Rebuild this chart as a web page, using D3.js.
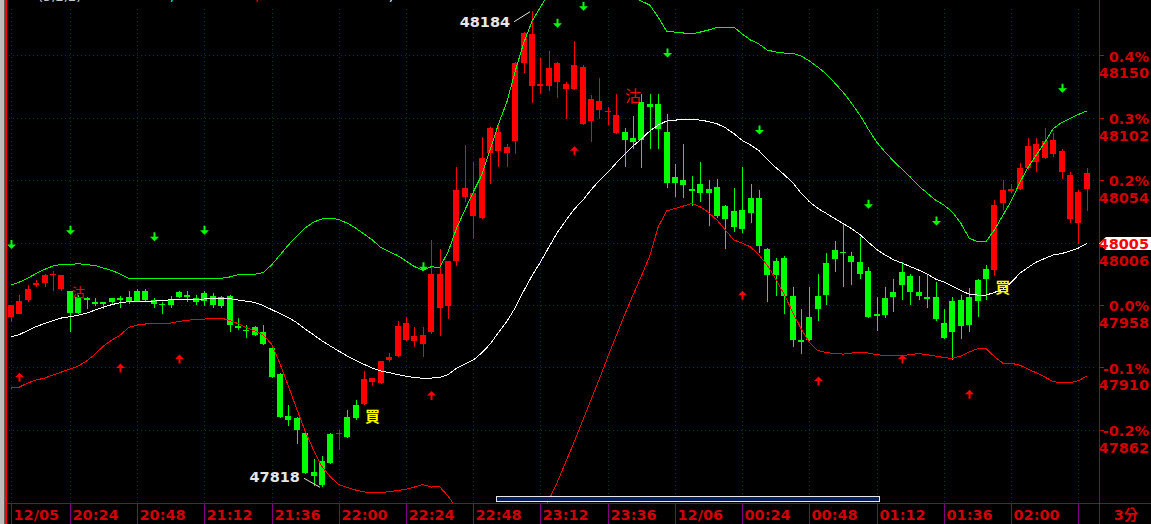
<!DOCTYPE html>
<html><head><meta charset="utf-8">
<script src="https://cdn.jsdelivr.net/npm/d3@7"></script>
<style>
html,body{margin:0;padding:0;background:#000;overflow:hidden;}
svg{display:block;}
</style></head><body>
<svg id="c" width="1151" height="524"></svg>
<script>
// ---------- DATA ----------
// 3-minute bars, 12/05 20:03 -> 12/06 02:27
const times = d3.range(129).map(i => {
  const m = 20 * 60 + 3 + 3 * i;
  return String(Math.floor(m / 60) % 24).padStart(2, "0") + ":" + String(m % 60).padStart(2, "0");
});
const tickTimes  = ["20:03","20:24","20:48","21:12","21:36","22:00","22:24","22:48","23:12","23:36","00:00","00:24","00:48","01:12","01:36","02:00","02:24"];
const tickLabels = ["12/05","20:24","20:48","21:12","21:36","22:00","22:24","22:48","23:12","23:36","12/06","00:24","00:48","01:12","01:36","02:00",""];

const refPrice = 47958;
const pctTicks = [0.4, 0.3, 0.2, 0.1, 0.0, -0.1, -0.2];
const priceLabels = ["48150","48102","48054","48006","47958","47910","47862"];

const open = [47949,47951,47962,47973,47975,47981,47970,47969,47964,47963,
47960,47960,47963,47963,47964,47969,47969,47962,47959,47962,
47968,47966,47963,47967,47965,47964,47965,47942,47939,47941,
47937,47925,47905,47873,47871,47860,47830,47838,47859,47860,
47872,47881,47882,47899,47898,47916,47919,47931,47930,47928,
47937,47956,47957,47992,48041,48026,48025,48075,48076,48075,
48084,48144,48126,48126,48126,48129,48124,48124,48097,48099,
48108,48106,48090,48091,48086,48114,48112,48112,48091,48056,
48054,48047,48051,48047,48049,48034,48030,48031,48040,48040,
48001,47992,47994,47965,47931,47949,47965,47990,48000,47999,
47996,47991,47984,47951,47963,47968,47983,47980,47968,47964,
47964,47944,47961,47962,47964,47977,47986,47985,48036,48046,
48047,48063,48068,48071,48074,48060,48024,48021,48047];
const high = [47958,47966,47973,47977,47982,47984,47981,47969,47966,47964,
47963,47960,47963,47965,47969,47970,47970,47963,47960,47965,
47969,47969,47966,47969,47967,47965,47966,47948,47943,47942,
47943,47926,47906,47881,47872,47861,47840,47842,47860,47862,
47877,47885,47907,47902,47915,47921,47946,47949,47941,47941,
48008,48001,47992,48064,48081,48068,48087,48095,48096,48082,
48145,48168,48184,48148,48153,48145,48129,48161,48142,48119,
48132,48110,48120,48094,48103,48120,48120,48120,48105,48066,
48082,48057,48068,48054,48055,48035,48048,48064,48051,48046,
48002,47994,47996,47972,47955,47972,47982,47998,48007,48020,
47999,48010,47987,47964,47972,47978,47991,47982,47980,47982,
47976,47955,47964,47966,47971,47978,47989,48039,48054,48051,
48067,48086,48086,48094,48090,48078,48060,48046,48063];
const low = [47945,47951,47960,47972,47972,47969,47969,47937,47951,47955,
47957,47955,47958,47956,47959,47960,47961,47956,47951,47956,
47963,47960,47958,47957,47956,47956,47937,47939,47933,47934,
47927,47902,47871,47865,47851,47828,47819,47818,47836,47847,
47856,47870,47881,47896,47897,47914,47918,47930,47926,47918,
47936,47934,47947,47988,48037,48009,48024,48051,48064,48064,
48074,48136,48113,48120,48122,48117,48101,48123,48096,48083,
48101,48096,48089,48064,48078,48063,48078,48078,48048,48041,
48040,48034,48037,48019,48025,48001,48014,48013,48021,47998,
47960,47965,47951,47926,47920,47930,47946,47958,47983,47972,
47973,47978,47948,47938,47948,47953,47962,47958,47962,47956,
47946,47932,47916,47932,47937,47949,47962,47980,48031,48044,
48046,48062,48060,48070,48072,48055,48021,48005,48030];
const close = [47958,47961,47970,47975,47981,47982,47981,47952,47952,47962,
47959,47959,47960,47962,47960,47961,47962,47959,47958,47958,
47964,47964,47960,47961,47958,47957,47943,47940,47938,47935,
47928,47903,47872,47870,47862,47829,47827,47820,47837,47860,
47857,47871,47901,47902,47915,47918,47942,47944,47934,47935,
47982,47982,47992,48046,48048,48044,48071,48094,48091,48079,
48144,48167,48166,48128,48140,48144,48128,48142,48141,48116,
48115,48107,48104,48085,48083,48085,48110,48093,48052,48052,
48050,48046,48044,48044,48026,48024,48018,48016,48029,48003,
47981,47981,47965,47931,47930,47931,47955,47966,47993,47998,
47991,47982,47949,47950,47950,47964,47973,47968,47965,47963,
47947,47933,47937,47942,47943,47961,47978,48035,48046,48047,
48063,48080,48082,48084,48085,48076,48058,48045,48059];

// Bollinger bands
const bandMid = [47933.6,47935.3,47938.4,47941.4,47943.8,47945.9,47948.0,47949.0,47950.1,47951.8,
47954.1,47956.4,47958.3,47959.8,47960.5,47961.0,47961.0,47961.0,47961.4,47962.0,
47962.3,47962.6,47962.6,47962.6,47963.0,47963.1,47963.0,47961.8,47960.9,47960.0,
47957.6,47954.5,47951.4,47948.4,47944.5,47939.5,47935.1,47930.5,47926.5,47922.6,
47918.9,47915.4,47912.4,47909.6,47907.3,47906.1,47904.6,47903.3,47902.3,47901.7,
47901.9,47902.4,47904.6,47909.3,47912.5,47915.7,47921.1,47928.0,47936.8,47945.3,
47956.0,47968.7,47980.6,47991.0,48002.5,48013.6,48022.7,48031.5,48038.2,48046.3,
48053.6,48059.7,48067.0,48073.5,48080.1,48085.4,48091.6,48096.2,48099.3,48100.0,
48100.4,48100.4,48100.0,48098.9,48097.2,48094.1,48089.7,48084.4,48080.8,48076.5,
48069.6,48063.6,48058.1,48052.0,48044.0,48037.3,48032.2,48028.4,48024.4,48020.6,
48016.7,48012.1,48006.3,48000.7,47996.4,47992.8,47990.2,47987.5,47984.8,47981.8,
47977.9,47975.6,47972.4,47969.1,47966.3,47965.6,47965.6,47967.6,47970.2,47975.2,
47982.2,47986.8,47991.0,47993.7,47996.4,47997.5,47999.4,48001.7,48005.3];
const bandUp = [47973.3,47975.6,47978.7,47982.2,47985.4,47987.9,47989.2,47989.2,47989.7,47989.0,
47988.3,47986.4,47984.5,47981.8,47978.5,47978.5,47978.5,47978.5,47978.5,47978.5,
47978.5,47978.5,47978.5,47978.5,47978.5,47978.5,47979.5,47981.2,47981.8,47981.6,
47982.9,47988.7,47996.4,48004.0,48011.0,48017.1,48021.7,48024.0,48024.8,48023.6,
48020.9,48017.1,48012.5,48007.9,48002.1,47999.0,47996.0,47991.8,47987.5,47984.8,
47987.4,47986.8,47998.7,48016.7,48030.9,48044.7,48057.8,48077.0,48097.0,48113.9,
48137.7,48159.2,48176.1,48186.8,48197.6,48205.3,48208.3,48209.9,48208.3,48207.6,
48206.0,48202.2,48199.9,48196.8,48194.5,48191.4,48188.4,48179.1,48168.4,48167.6,
48166.9,48166.1,48167.6,48169.2,48171.1,48171.5,48171.5,48166.1,48161.5,48158.4,
48153.8,48152.3,48151.5,48151.5,48149.2,48145.4,48140.7,48135.4,48128.5,48121.5,
48113.1,48103.9,48093.1,48083.1,48075.5,48068.6,48062.4,48056.3,48049.4,48044.0,
48038.6,48034.8,48029.4,48020.9,48009.4,48006.6,48006.6,48015.6,48026.7,48037.8,
48051.7,48063.6,48073.2,48082.8,48093.4,48098.1,48101.3,48104.3,48107.0];
const bandDn = [47894.2,47895.0,47898.1,47900.4,47901.9,47904.2,47906.5,47908.8,47911.1,47915.0,
47920.3,47926.5,47931.1,47934.9,47940.7,47942.6,47943.4,47943.8,47943.4,47944.1,
47945.4,47946.3,47946.8,47947.2,47948.0,47948.0,47946.1,47943.8,47940.7,47938.0,
47934.9,47928.0,47913.0,47895.8,47878.1,47861.2,47846.6,47833.9,47825.9,47820.1,
47817.8,47815.9,47814.5,47813.8,47814.0,47814.6,47815.5,47816.4,47818.2,47820.1,
47818.2,47818.4,47811.3,47802.1,47794.4,47786.7,47784.4,47779.0,47776.7,47776.7,
47774.4,47778.2,47785.2,47795.1,47808.2,47822.0,47837.4,47852.7,47868.9,47885.0,
47901.1,47918.0,47934.2,47950.3,47965.6,47980.2,47995.6,48017.9,48030.2,48032.1,
48034.0,48035.9,48033.5,48029.0,48023.2,48015.6,48007.9,48005.6,48002.5,47996.4,
47988.3,47977.9,47966.0,47952.6,47939.9,47929.2,47923.0,47921.5,47920.7,47920.3,
47921.1,47921.5,47921.1,47919.9,47919.0,47919.0,47919.2,47919.9,47920.7,47919.9,
47918.8,47917.6,47917.0,47918.8,47921.9,47924.4,47924.6,47918.4,47913.4,47913.2,
47911.9,47908.8,47905.9,47902.7,47899.2,47898.3,47898.4,47899.8,47903.4];

// signal markers (bar index, price at arrow tip)
const sellArrowIdx = [0,7,17,23,49,65,68,78,89,102,110,125];
const sellArrowPx  = [48001,48012,48007,48012,47984,48171,48184,48148,48089,48032,48019,48121];
const buyArrowIdx  = [1,13,20,50,67,87,96,106,114];
const buyArrowPx   = [47906,47913,47920,47892,48080,47969,47903,47920,47893];
// text signals
const sigText = ["買","買","沽","沽"];
const sigIdx  = [43,118,74,8];
const sigPx   = [47873.5,47972,48119,47968];
const sigKind = ["buy","buy","sell","sellSmall"];
// extreme annotations
const extremeIdx = [62,37];
const extremeVal = [48184,47818];
const extremeKind = ["high","low"];

// ---------- CHART ----------
const W = 1151, H = 524;
const plotL = 7, plotR = 1099, plotB = 503;
const RED = "#ff0000", GREEN = "#00ff00", AXRED = "#d20000", PURPLE = "#800080";
const FONT = "'DejaVu Sans', Verdana, sans-serif";

const svg = d3.select("#c");
const x = d3.scalePoint().domain(times).range([11, 1086.8]);
const y = d3.scaleLinear().domain([refPrice, 48150]).range([305, 55]);

svg.append("rect").attr("width", W).attr("height", H).attr("fill", "#000");

const defs = svg.append("defs");
defs.append("clipPath").attr("id", "plotClip")
  .append("rect").attr("x", plotL).attr("y", 0).attr("width", plotR - plotL).attr("height", plotB);

// grid
const grid = svg.append("g").attr("shape-rendering", "crispEdges");
pctTicks.forEach(p => {
  const yy = Math.round(y(refPrice * (1 + p / 100))) + 0.5;
  grid.append("line").attr("x1", 9).attr("x2", 1097).attr("y1", yy).attr("y2", yy)
    .attr("stroke", "#0000ff").attr("stroke-dasharray", "1,3");
});
tickTimes.forEach(t => {
  const xx = Math.round(x(t)) + 0.5;
  grid.append("line").attr("x1", xx).attr("x2", xx).attr("y1", 9).attr("y2", plotB)
    .attr("stroke", "#0000ff").attr("stroke-dasharray", "1,3");
});

const plot = svg.append("g").attr("clip-path", "url(#plotClip)");

// candles
const bars = times.map((t, i) => ({ t, o: open[i], h: high[i], l: low[i], c: close[i] }));
const cg = plot.append("g").attr("shape-rendering", "crispEdges");
const cand = cg.selectAll("g").data(bars).join("g");
cand.append("rect")
  .attr("x", d => Math.round(x(d.t)))
  .attr("y", d => y(d.h))
  .attr("width", 1)
  .attr("height", d => Math.max(1, y(d.l) - y(d.h)))
  .attr("fill", d => d.c >= d.o ? RED : GREEN);
cand.append("rect")
  .attr("x", d => Math.round(x(d.t)) - 3)
  .attr("y", d => y(Math.max(d.o, d.c)))
  .attr("width", 6)
  .attr("height", d => Math.max(1.5, Math.abs(y(d.o) - y(d.c))))
  .attr("fill", d => d.c >= d.o ? RED : GREEN);

// bands
const lineGen = arr => d3.line().x((d, i) => x(times[i])).y(d => y(d))(arr);
[[bandUp, GREEN], [bandDn, RED], [bandMid, "#ffffff"]].forEach(([arr, col]) => {
  plot.append("path").attr("d", lineGen(arr)).attr("fill", "none")
    .attr("stroke", col).attr("stroke-width", 1).attr("shape-rendering", "crispEdges");
});

// arrows
const ag = plot.append("g");
sellArrowIdx.forEach((idx, k) => {
  const cx = Math.round(x(times[idx])) + 0.5, ty = y(sellArrowPx[k]);
  const p = d3.path();
  p.moveTo(cx - 1, ty - 9); p.lineTo(cx + 1, ty - 9); p.lineTo(cx + 1, ty - 4.5);
  p.lineTo(cx + 4.5, ty - 4.5); p.lineTo(cx, ty); p.lineTo(cx - 4.5, ty - 4.5);
  p.lineTo(cx - 1, ty - 4.5); p.closePath();
  ag.append("path").attr("d", p.toString()).attr("fill", GREEN);
});
buyArrowIdx.forEach((idx, k) => {
  const cx = Math.round(x(times[idx])) + 0.5, ty = y(buyArrowPx[k]);
  const p = d3.path();
  p.moveTo(cx, ty); p.lineTo(cx + 4.5, ty + 4.5); p.lineTo(cx + 1, ty + 4.5);
  p.lineTo(cx + 1, ty + 9); p.lineTo(cx - 1, ty + 9); p.lineTo(cx - 1, ty + 4.5);
  p.lineTo(cx - 4.5, ty + 4.5); p.closePath();
  ag.append("path").attr("d", p.toString()).attr("fill", RED);
});

// text signals
sigText.forEach((s, k) => {
  const kind = sigKind[k];
  svg.append("text")
    .attr("x", x(times[sigIdx[k]]))
    .attr("y", y(sigPx[k]))
    .attr("text-anchor", "middle")
    .attr("dominant-baseline", "central")
    .attr("font-family", "'Noto Sans CJK TC','Noto Sans CJK SC',sans-serif")
    .attr("font-weight", kind === "buy" ? "bold" : "normal")
    .attr("font-size", kind === "sellSmall" ? 13 : (kind === "buy" ? 15 : 16))
    .attr("fill", kind === "buy" ? "#ffff00" : RED)
    .text(s);
});

// extreme annotations
extremeIdx.forEach((idx, k) => {
  const ax = x(times[idx]), ay = y(extremeVal[k]);
  const hi = extremeKind[k] === "high";
  svg.append("line")
    .attr("x1", ax - 18).attr("y1", hi ? ay + 11 : ay - 9)
    .attr("x2", ax - 2).attr("y2", hi ? ay + 1 : ay)
    .attr("stroke", "#e6e6e6").attr("stroke-width", 1);
  svg.append("text")
    .attr("x", ax - 22).attr("y", hi ? ay + 16.5 : ay - 5)
    .attr("text-anchor", "end")
    .attr("font-family", FONT).attr("font-weight", "bold").attr("font-size", 14.5)
    .attr("fill", "#e6e6e6")
    .text(String(extremeVal[k]));
});

// scrollbar
svg.append("rect").attr("x", 496.5).attr("y", 496.5).attr("width", 383).attr("height", 5)
  .attr("fill", "#0c1f5c").attr("stroke", "#e8e8e8").attr("stroke-width", 1);

// axes frame
const ax = svg.append("g").attr("shape-rendering", "crispEdges");
ax.append("line").attr("x1", plotL).attr("x2", W).attr("y1", plotB + 0.5).attr("y2", plotB + 0.5)
  .attr("stroke", PURPLE).attr("stroke-width", 1.5);
ax.append("line").attr("x1", plotR + 0.5).attr("x2", plotR + 0.5).attr("y1", 0).attr("y2", H)
  .attr("stroke", PURPLE).attr("stroke-width", 1.5);

// x labels
tickTimes.forEach((t, k) => {
  const xx = Math.round(x(t)) + 0.5;
  ax.append("line").attr("x1", xx).attr("x2", xx).attr("y1", plotB).attr("y2", H)
    .attr("stroke", PURPLE).attr("stroke-width", 1);
  if (tickLabels[k]) {
    svg.append("text").attr("x", xx + 2).attr("y", 520)
      .attr("font-family", FONT).attr("font-weight", "bold").attr("font-size", 14.5)
      .attr("fill", AXRED).text(tickLabels[k]);
  }
});
svg.append("text").attr("x", 1126).attr("y", 520).attr("text-anchor", "middle")
  .attr("font-family", "'DejaVu Sans','Noto Sans CJK TC',sans-serif").attr("font-weight", "bold")
  .attr("font-size", 14.5).attr("fill", AXRED).text("3分");

// last value marker (middle band)
const lastMid = bandMid[bandMid.length - 1];
const my = y(lastMid);

// y labels
pctTicks.forEach((p, k) => {
  const yy = y(refPrice * (1 + p / 100));
  ax.append("line").attr("x1", plotR + 1).attr("x2", plotR + 5)
    .attr("y1", Math.round(yy) + 0.5).attr("y2", Math.round(yy) + 0.5)
    .attr("stroke", AXRED).attr("stroke-width", 1);
  if (Math.abs(yy - my) > 10) {   // percent label is hidden under the last-value marker
    svg.append("text").attr("x", 1149).attr("y", yy + 6.3).attr("text-anchor", "end")
      .attr("font-family", FONT).attr("font-weight", "bold").attr("font-size", 14.5)
      .attr("fill", AXRED).text(p.toFixed(1) + "%");
  }
  svg.append("text").attr("x", 1149).attr("y", yy + 23).attr("text-anchor", "end")
    .attr("font-family", FONT).attr("font-weight", "bold").attr("font-size", 14.5)
    .attr("fill", AXRED).text(priceLabels[k]);
});

svg.append("path")
  .attr("d", `M${plotR},${my} L${plotR + 7},${my - 6.5} L${W},${my - 6.5} L${W},${my + 6.5} L${plotR + 7},${my + 6.5} Z`)
  .attr("fill", "#ffffff");
svg.append("text").attr("x", 1149).attr("y", my + 5.5).attr("text-anchor", "end")
  .attr("font-family", FONT).attr("font-weight", "bold").attr("font-size", 14.5)
  .attr("fill", RED).text(String(Math.round(lastMid)));

// left edge
svg.append("rect").attr("x", 0).attr("y", 0).attr("width", 4.5).attr("height", H).attr("fill", "#bdbdbd");
svg.append("rect").attr("x", 5).attr("y", 0).attr("width", 2).attr("height", H).attr("fill", RED);

// legend row (cut off at top)
const legend = [["(5,2,2)", "#c8c8c8", 38], [",", "#00ffff", 170], [",", RED, 255], [",", "#ffffff", 389]];
legend.forEach(([s, col, lx]) => {
  svg.append("text").attr("x", lx).attr("y", 1).attr("font-family", FONT)
    .attr("font-size", 13).attr("fill", col).text(s);
});
</script>
</body></html>
